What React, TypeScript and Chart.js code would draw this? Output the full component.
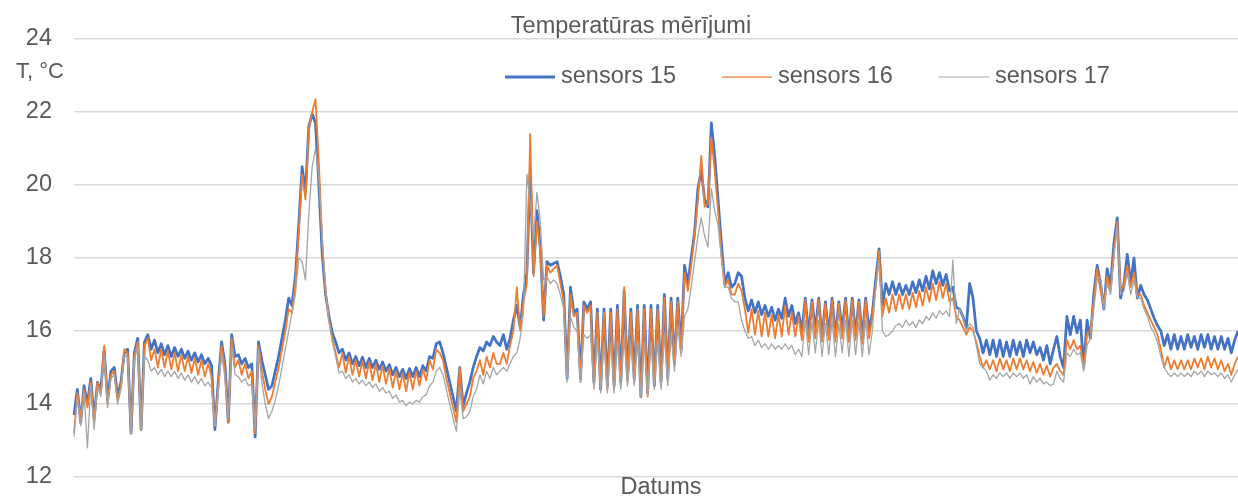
import React, { useEffect, useRef } from "react";
import { Chart, registerables } from "chart.js";

Chart.register(...registerables);

const chartTitle = "Temperatūras mērījumi";
const yAxisTitle = "T, °C";
const xAxisTitle = "Datums";
const yTicks = [12, 14, 16, 18, 20, 22, 24];
const seriesNames = ["sensors 15", "sensors 16", "sensors 17"];
const seriesColors = ["#4472C4", "#ED7D31", "#A5A5A5"];

const sensor15 = [
  13.7, 14.4, 13.5, 14.5, 14.0, 14.7, 13.6, 14.6, 14.4, 15.5, 14.1, 14.9, 15.0, 14.2, 14.6, 15.4, 15.5, 13.2, 15.4, 15.8, 13.3, 15.7, 15.9,
  15.5, 15.75, 15.4, 15.65, 15.35, 15.6, 15.3, 15.55, 15.3, 15.5, 15.25, 15.45, 15.2, 15.4, 15.15, 15.35, 15.1, 15.25, 15.05,
  13.3, 14.6, 15.7, 15.1, 13.5, 15.9, 15.3, 15.35, 15.1, 15.25, 15.0, 15.1, 13.1, 15.7, 15.2, 14.8, 14.4, 14.5, 14.9, 15.3, 15.8, 16.3, 16.9, 16.7, 17.5,
  18.9, 20.5, 19.8, 21.6, 21.95, 21.7, 20.0, 18.1, 17.0, 16.4, 15.95, 15.7,
  15.4, 15.5, 15.2, 15.4, 15.1, 15.3, 15.05, 15.28, 15.0, 15.25, 15.0, 15.2, 14.95, 15.15, 14.9, 15.08, 14.8, 15.0, 14.75, 14.95, 14.7, 14.97, 14.75, 15.0, 14.75, 15.05, 14.9, 15.3, 15.25, 15.65,
  15.7, 15.4, 15.0, 14.6, 14.2, 13.8, 15.0, 13.95, 14.3, 14.6, 15.0, 15.3, 15.55, 15.45, 15.7, 15.6, 15.85, 15.7,
  15.6, 15.9, 15.5, 15.8, 16.3, 16.7, 16.1, 17.0, 17.6, 20.4, 17.6, 19.3, 18.3, 16.3, 17.9, 17.8, 17.85, 17.9, 17.5, 17.0,
  14.7, 17.2, 16.5, 16.6, 14.7, 16.8, 16.6, 16.8, 14.6, 16.6, 14.4, 16.6, 14.5, 16.6, 14.5, 16.7, 14.6, 17.1, 14.7, 16.6, 14.7, 16.7, 14.2, 16.7, 14.3, 16.7, 14.5, 16.7, 14.6, 17.0, 14.7, 16.9, 15.1, 16.9, 15.5, 17.8,
  17.3, 18.0, 18.7, 19.9, 20.4, 19.6, 19.4, 21.7, 20.8, 19.6, 18.4, 17.3, 17.6, 17.2, 17.3, 17.6, 17.5, 16.9,
  16.55, 16.85, 16.5, 16.8, 16.45, 16.7, 16.4, 16.65, 16.3, 16.6, 16.35, 16.9, 16.4, 16.7, 16.2, 16.5, 16.0, 16.9, 15.9, 16.85, 16.0, 16.9, 15.8, 16.8, 15.9, 16.9, 15.85, 16.8, 16.0, 16.9, 15.8, 16.9, 15.9, 16.85, 15.8, 16.9, 16.0, 16.5,
  17.4, 18.25, 16.7, 17.3, 17.0, 17.35, 17.0, 17.3, 17.0, 17.25, 17.0, 17.35, 17.05, 17.4, 17.1, 17.5, 17.15, 17.65, 17.3, 17.6, 17.25, 17.55, 17.1, 17.2, 16.65, 16.6, 16.4,
  16.1, 17.3, 16.9, 16.0, 15.8, 15.4, 15.75, 15.35, 15.75, 15.3, 15.75, 15.3, 15.7, 15.3, 15.75, 15.35, 15.7, 15.3, 15.75, 15.4, 15.7, 15.35, 15.55, 15.2, 15.6, 15.1, 15.5,
  15.85, 15.3, 15.0, 16.4, 15.9, 16.4, 15.95, 16.3, 15.0, 16.3, 15.8, 17.0, 17.8, 17.3, 16.6, 17.7, 17.2, 18.4, 19.1, 16.9, 17.3, 18.1, 17.3, 18.0, 16.9, 17.25, 17.0, 16.85, 16.6, 16.35, 16.15,
  16.0, 15.6, 15.9, 15.5, 15.9, 15.5, 15.85, 15.5, 15.9, 15.55, 15.85, 15.5, 15.9, 15.55, 15.9, 15.5, 15.85, 15.5, 15.85, 15.5, 15.8, 15.4, 15.75, 16.0,
];

const sensor16 = [
  13.2, 14.3, 13.6, 14.4, 13.9, 14.6, 13.5, 14.6, 14.3, 15.6, 14.0, 14.8, 14.9, 14.1, 14.5, 15.5, 15.4, 13.2, 15.3, 15.7, 13.3, 15.6, 15.8,
  15.2, 15.5, 15.0, 15.5, 15.0, 15.45, 14.95, 15.4, 14.9, 15.35, 14.9, 15.3, 14.85, 15.25, 14.8, 15.2, 14.75, 15.1, 14.75,
  13.4, 14.5, 15.6, 14.9, 13.5, 15.8, 15.0, 15.2, 14.8, 15.1, 14.7, 14.9, 13.2, 15.6, 14.9, 14.4, 14.0, 14.2, 14.6, 15.0, 15.5, 16.0, 16.6, 16.5, 17.3,
  18.7, 20.3, 19.6, 21.5, 22.0, 22.35, 20.6, 18.4, 17.1, 16.3, 15.8, 15.4,
  15.0, 15.4, 14.85, 15.3, 14.8, 15.2, 14.75, 15.18, 14.7, 15.15, 14.65, 15.1, 14.6, 15.05, 14.55, 14.98, 14.45, 14.9, 14.4, 14.85, 14.35, 14.87, 14.4, 14.9, 14.5, 14.95, 14.65, 15.2, 14.95, 15.5,
  15.4, 15.2, 14.7, 14.3, 13.9, 13.5, 15.0, 13.8, 14.0, 14.2, 14.7, 14.9, 15.2, 14.8, 15.3, 15.0, 15.4, 15.1,
  15.1, 15.4, 15.1, 15.6, 16.0, 17.2, 16.0, 16.8, 17.3, 21.4, 17.5, 19.0, 18.2, 16.4, 17.8, 17.6, 17.7, 17.8, 17.3, 16.8,
  14.8, 17.0, 16.4, 16.5, 14.6, 16.7, 16.5, 16.7, 14.5, 16.5, 14.5, 16.5, 14.4, 16.5, 14.4, 16.6, 14.5, 17.2, 14.6, 16.5, 14.6, 16.6, 14.2, 16.6, 14.2, 16.6, 14.6, 16.6, 14.5, 16.9, 14.8, 16.8, 15.2, 16.8, 15.4, 17.6,
  17.1, 17.8, 18.6, 19.6, 20.8, 19.4, 19.5, 21.3, 20.4, 19.3, 18.1, 17.2, 17.4, 17.0, 17.0, 17.3, 17.1, 16.6,
  15.95, 16.6, 15.9, 16.55, 15.85, 16.5, 15.85, 16.45, 15.8, 16.45, 15.85, 16.7, 15.9, 16.5, 15.85, 16.4, 15.75, 16.85, 15.7, 16.8, 15.8, 16.85, 15.7, 16.75, 15.75, 16.85, 15.7, 16.75, 15.8, 16.85, 15.7, 16.85, 15.75, 16.8, 15.65, 16.85, 15.8, 16.4,
  17.2, 18.2, 16.4, 16.9, 16.5, 17.0, 16.55, 17.0, 16.6, 17.0, 16.6, 17.05, 16.65, 17.1, 16.7, 17.2, 16.8, 17.3, 16.85, 17.35, 16.9, 17.3, 16.8, 16.9, 16.4, 16.3, 16.1,
  15.9, 16.1, 16.0, 15.7, 15.3, 15.0, 15.2, 14.95, 15.2, 14.9, 15.25, 14.95, 15.2, 14.9, 15.25, 14.95, 15.25, 14.95, 15.2, 14.9, 15.15, 14.85, 15.1, 14.8, 15.05, 14.75, 15.0,
  15.1, 14.9, 14.8, 15.75, 15.5, 15.75, 15.5, 15.6, 15.0, 15.9, 16.0, 16.8, 17.7, 17.1, 16.7, 17.5, 17.1, 18.2, 19.0, 17.1, 17.3, 17.8, 17.2, 17.6, 17.0, 17.0, 16.7, 16.5, 16.3, 16.1, 15.9,
  15.5, 15.0, 15.3, 14.95, 15.2, 14.95, 15.2, 14.95, 15.2, 14.95, 15.25, 15.0, 15.25, 14.95, 15.3, 15.0, 15.25, 14.95, 15.2, 14.9, 15.1, 14.8, 15.1, 15.3,
];

const sensor17 = [
  13.1, 14.2, 13.4, 14.3, 12.8, 14.5, 13.3, 14.5, 14.2, 15.3, 13.9, 14.7, 14.8, 14.0, 14.4, 15.3, 15.3, 13.2, 15.2, 15.6, 13.3, 15.3, 15.2,
  14.9, 15.0, 14.8, 14.95, 14.75, 14.9, 14.75, 14.9, 14.7, 14.85, 14.65, 14.8, 14.6, 14.75, 14.55, 14.7, 14.5, 14.6, 14.45,
  13.4, 14.3, 15.4, 14.7, 13.6, 15.6, 14.8, 14.75, 14.6, 14.7, 14.5, 14.55, 13.3, 15.5, 14.6, 14.0, 13.6, 13.8, 14.1, 14.5, 15.0, 15.5, 16.0, 16.5, 17.0,
  18.0, 17.9, 17.4, 19.2, 20.5, 21.0, 20.2, 18.6, 17.1, 16.3, 15.7, 15.3,
  14.85, 14.9, 14.7, 14.8, 14.6, 14.7, 14.55, 14.65, 14.5, 14.6, 14.45, 14.55, 14.35, 14.45, 14.3, 14.35, 14.15, 14.25, 14.05, 14.1, 13.95, 14.05, 14.0, 14.1, 14.05, 14.2, 14.25, 14.5, 14.6, 14.9,
  15.0, 14.8, 14.4, 14.0, 13.6, 13.25, 14.4, 13.6, 13.65, 13.8, 14.2, 14.4, 14.8, 14.55, 14.9, 14.7, 15.0, 14.8,
  14.9, 15.0, 14.9, 15.1, 15.3, 15.4, 15.8, 16.5, 20.3, 19.5, 18.5, 19.8, 19.0, 17.4, 17.5, 17.3, 17.4, 17.3, 17.0, 16.6,
  14.6, 16.4, 16.1, 16.0, 14.6, 15.9, 15.8, 15.9, 14.4, 15.8, 14.3, 15.7, 14.3, 15.7, 14.3, 15.7, 14.4, 15.8, 14.5, 15.6, 14.5, 15.7, 14.2, 15.7, 14.2, 15.7, 14.4, 15.7, 14.4, 15.9, 14.5, 15.9, 14.9, 16.1, 15.3, 16.4,
  16.6, 17.2, 17.9, 18.6, 19.1, 18.6, 18.3, 19.9, 19.3, 18.9, 18.0, 17.2, 17.2, 16.9, 16.8, 16.8, 16.3, 16.0,
  15.8, 15.85, 15.6, 15.75, 15.55, 15.65, 15.5, 15.65, 15.5, 15.6, 15.5, 15.65, 15.5, 15.6, 15.35, 15.5, 15.3, 16.3, 15.35, 16.25, 15.4, 16.3, 15.3, 16.2, 15.35, 16.3, 15.3, 16.2, 15.4, 16.3, 15.3, 16.3, 15.35, 16.25, 15.3, 16.3, 15.35, 16.0,
  17.2, 17.9, 16.0, 15.85, 15.9, 16.0, 16.15, 16.2, 16.1, 16.3, 16.15, 16.25, 16.1, 16.3, 16.2, 16.4, 16.3, 16.5, 16.35, 16.55, 16.45, 16.55, 16.4, 17.95, 16.2, 16.6, 16.4,
  16.0, 16.2, 16.1, 15.6, 15.1, 15.0, 14.9, 14.65, 14.8, 14.7, 14.85, 14.75, 14.85, 14.7, 14.85, 14.75, 14.85, 14.7, 14.8, 14.55, 14.75, 14.6, 14.7, 14.55, 14.6, 14.5, 14.55,
  14.9, 14.7, 14.6, 15.4, 15.3, 15.5, 15.35, 15.4, 14.9, 15.6, 15.8, 16.6, 17.4, 17.5, 16.6, 17.3, 17.0, 18.0, 18.9, 17.0, 17.1, 17.6, 17.0, 17.4, 16.9, 16.9, 16.6, 16.4, 16.1, 15.95, 15.7,
  15.3, 15.0, 14.85, 14.75, 14.85, 14.75, 14.85, 14.75, 14.85, 14.75, 14.9, 14.8, 14.9, 14.75, 14.9, 14.8, 14.85, 14.75, 14.85, 14.7, 14.8, 14.6, 14.8, 14.95,
];

const measurementIndex = sensor15.map((_, i) => String(i + 1));

const FONT = "'Liberation Sans', Arial, Helvetica, sans-serif";
const TEXT = "#595959";
const legendLineWidths = [3, 1.25, 1.1];

export default function App() {
  const ref = useRef<HTMLCanvasElement | null>(null);

  useEffect(() => {
    document.body.style.margin = "0";
    const canvas = ref.current;
    if (!canvas) return;

    const overlay = {
      id: "overlay",
      afterDraw(chart: any) {
        const ctx = chart.ctx as CanvasRenderingContext2D;
        ctx.save();
        ctx.fillStyle = TEXT;
        ctx.textBaseline = "middle";
        ctx.textAlign = "center";
        ctx.font = `23.5px ${FONT}`;
        ctx.fillText(chartTitle, 631, 27);
        ctx.fillText(xAxisTitle, 661, 488);
        ctx.font = `22px ${FONT}`;
        ctx.fillText(yAxisTitle, 40, 72);

        // legend
        ctx.font = `23.5px ${FONT}`;
        ctx.textAlign = "left";
        let x = 505;
        const y = 77;
        chart.data.datasets.forEach((ds: any, i: number) => {
          ctx.strokeStyle = ds.borderColor;
          ctx.lineWidth = legendLineWidths[i];
          ctx.beginPath();
          ctx.moveTo(x, y);
          ctx.lineTo(x + 50, y);
          ctx.stroke();
          ctx.fillStyle = TEXT;
          ctx.fillText(ds.label, x + 56, y);
          x += 56 + ctx.measureText(ds.label).width + 46;
        });
        ctx.restore();
      },
    };

    const chart = new Chart(canvas, {
      type: "line",
      data: {
        labels: measurementIndex,
        datasets: [
          { label: seriesNames[0], data: sensor15, borderColor: seriesColors[0], borderWidth: 2.75, order: 2 },
          { label: seriesNames[1], data: sensor16, borderColor: seriesColors[1], borderWidth: 1.8, order: 1 },
          { label: seriesNames[2], data: sensor17, borderColor: seriesColors[2], borderWidth: 1.3, order: 0 },
        ].map((d) => ({
          ...d,
          pointRadius: 0,
          pointHoverRadius: 0,
          tension: 0,
          fill: false,
          borderJoinStyle: "round" as const,
        })),
      },
      options: {
        responsive: false,
        animation: false,
        events: [],
        layout: { padding: { top: 39, bottom: 19, left: 0, right: 0 } },
        plugins: {
          legend: { display: false },
          title: { display: false },
          tooltip: { enabled: false },
        },
        scales: {
          x: { type: "category", display: false },
          y: {
            min: 12,
            max: 24,
            afterFit: (s: any) => {
              s.width = 74;
              s.paddingTop = 0;
              s.paddingBottom = 0;
            },
            afterBuildTicks: (s: any) => {
              s.ticks = yTicks.map((v) => ({ value: v }));
            },
            ticks: {
              color: TEXT,
              font: { size: 23.5, family: FONT },
              padding: 22,
            },
            grid: { color: "#d9d9d9", lineWidth: 1.5, drawTicks: false },
            border: { display: false },
          },
        },
      },
      plugins: [overlay],
    });

    return () => chart.destroy();
  }, []);

  return (
    <div style={{ width: 1238, height: 496 }}>
      <canvas ref={ref} width={1238} height={496} style={{ display: "block" }} />
    </div>
  );
}
